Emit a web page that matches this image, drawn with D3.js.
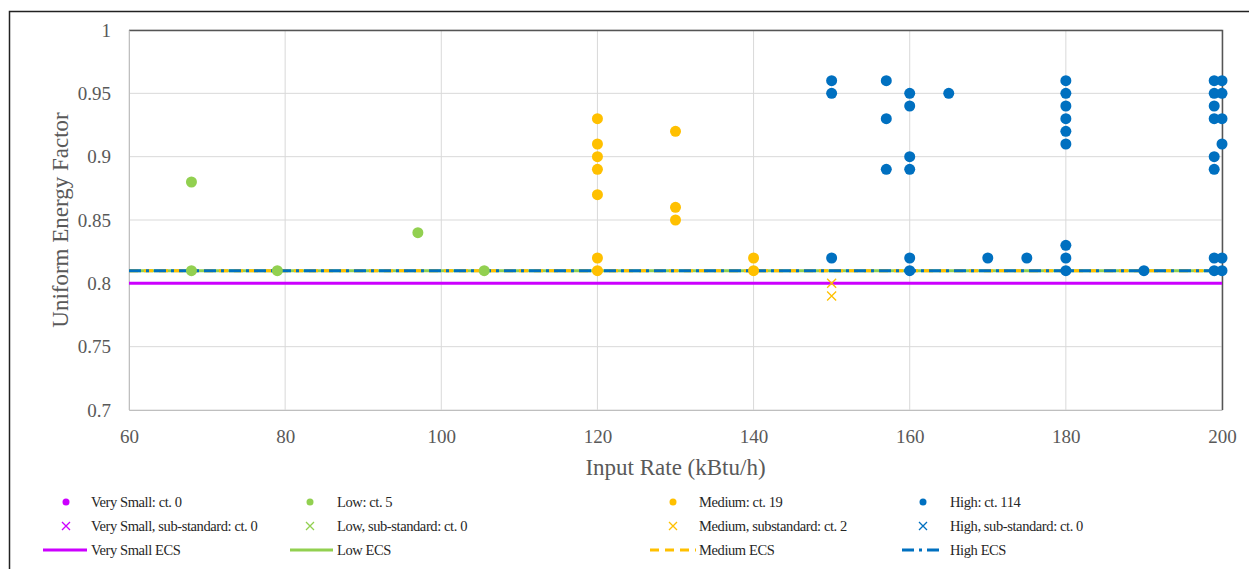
<!DOCTYPE html>
<html>
<head>
<meta charset="utf-8">
<script src="https://cdn.jsdelivr.net/npm/d3@7"></script>
<style>
  body { margin: 0; background: #fff; }
</style>
</head>
<body>
<script>
"use strict";

// ---- data ----
var low_points = [[68, 0.88], [68, 0.81], [79, 0.81], [97, 0.84], [105.5, 0.81]];
var medium_points = [
  [120, 0.93], [120, 0.91], [120, 0.90], [120, 0.89], [120, 0.87], [120, 0.82], [120, 0.81],
  [130, 0.92], [130, 0.86], [130, 0.85],
  [140, 0.82], [140, 0.81]
];
var medium_sub_points = [[150, 0.80], [150, 0.79]];
var high_points = [
  [150, 0.96], [150, 0.95], [150, 0.82],
  [157, 0.96], [157, 0.93], [157, 0.89],
  [160, 0.95], [160, 0.94], [160, 0.90], [160, 0.89], [160, 0.82], [160, 0.81],
  [165, 0.95], [170, 0.82], [175, 0.82],
  [180, 0.96], [180, 0.95], [180, 0.94], [180, 0.93], [180, 0.92], [180, 0.91],
  [180, 0.83], [180, 0.82], [180, 0.81],
  [190, 0.81],
  [199, 0.96], [199, 0.95], [199, 0.94], [199, 0.93], [199, 0.90], [199, 0.89], [199, 0.82], [199, 0.81],
  [200, 0.96], [200, 0.95], [200, 0.93], [200, 0.91], [200, 0.82], [200, 0.81]
];
var ecs_names = ['Very Small ECS', 'Low ECS', 'Medium ECS', 'High ECS'];
var ecs_values = [0.80, 0.81, 0.81, 0.81];
var x_ticks = [60, 80, 100, 120, 140, 160, 180, 200];
var y_ticks = [0.7, 0.75, 0.8, 0.85, 0.9, 0.95, 1];
var legend_dots = ['Very Small: ct. 0', 'Low: ct. 5', 'Medium: ct. 19', 'High: ct. 114'];
var legend_crosses = ['Very Small, sub-standard: ct. 0', 'Low, sub-standard: ct. 0',
                      'Medium, substandard: ct. 2', 'High, sub-standard: ct. 0'];

var colors = ['#cc00ff', '#92d050', '#ffc000', '#0070c0'];
var dashes = [null, null, '9,6', '12,5,3,5'];
var font = 'Liberation Serif, Times New Roman, DejaVu Serif, serif';

var width = 1249, height = 569;
var plot = {left: 129, right: 1222, top: 30, bottom: 410};

var svg = d3.select('body').append('svg')
  .attr('width', width)
  .attr('height', height)
  .style('font-family', font);

// outer frame
svg.append('path')
  .attr('d', 'M9.5,569 V11.5 H1249')
  .attr('fill', 'none')
  .attr('stroke', '#222')
  .attr('stroke-width', 1.5);

var x = d3.scaleLinear().domain([60, 200]).range([plot.left, plot.right]);
var y = d3.scaleLinear().domain([0.7, 1]).range([plot.bottom, plot.top]);

// gridlines
svg.append('g').selectAll('line.vg')
  .data(x_ticks)
  .enter().append('line')
  .attr('x1', function(d) { return x(d); })
  .attr('x2', function(d) { return x(d); })
  .attr('y1', plot.top)
  .attr('y2', plot.bottom)
  .attr('stroke', '#d9d9d9')
  .attr('stroke-width', 1);

svg.append('g').selectAll('line.hg')
  .data(y_ticks)
  .enter().append('line')
  .attr('x1', plot.left)
  .attr('x2', plot.right)
  .attr('y1', function(d) { return y(d); })
  .attr('y2', function(d) { return y(d); })
  .attr('stroke', '#d9d9d9')
  .attr('stroke-width', 1);

// plot area border: top and right are dark
svg.append('path')
  .attr('d', 'M' + plot.left + ',' + (plot.top + 0.5) + ' H' + (plot.right + 0.5) + ' V' + plot.bottom)
  .attr('fill', 'none')
  .attr('stroke', '#555')
  .attr('stroke-width', 1.5);

// axes (labels only, Excel style)
var xAxis = svg.append('g')
  .attr('transform', 'translate(0,' + plot.bottom + ')')
  .call(d3.axisBottom(x).tickValues(x_ticks).tickSize(0).tickPadding(19.5));
var yAxis = svg.append('g')
  .attr('transform', 'translate(' + plot.left + ',0)')
  .call(d3.axisLeft(y).tickValues(y_ticks).tickSize(0).tickPadding(18)
    .tickFormat(function(d) { return d3.format('')(+d.toFixed(2)); }));

[xAxis, yAxis].forEach(function(ax) {
  ax.attr('font-family', null);
  ax.select('.domain').attr('stroke', '#bfbfbf');
  ax.selectAll('text')
    .style('font-family', font)
    .style('font-size', '19px')
    .attr('fill', '#595959');
});

// axis titles
svg.append('text')
  .attr('x', (plot.left + plot.right) / 2)
  .attr('y', 475)
  .attr('text-anchor', 'middle')
  .style('font-family', font)
  .style('font-size', '23px')
  .attr('fill', '#595959')
  .text('Input Rate (kBtu/h)');

svg.append('text')
  .attr('transform', 'translate(68,' + ((plot.top + plot.bottom) / 2) + ') rotate(-90)')
  .attr('text-anchor', 'middle')
  .style('font-family', font)
  .style('font-size', '23px')
  .attr('fill', '#595959')
  .text('Uniform Energy Factor');

// ECS lines
ecs_values.forEach(function(v, i) {
  svg.append('line')
    .attr('x1', x(60))
    .attr('x2', x(200))
    .attr('y1', y(v))
    .attr('y2', y(v))
    .attr('stroke', colors[i])
    .attr('stroke-width', 3)
    .attr('stroke-dasharray', dashes[i]);
});

// points
function dots(data, color) {
  svg.append('g').selectAll('circle')
    .data(data)
    .enter().append('circle')
    .attr('cx', function(d) { return x(d[0]); })
    .attr('cy', function(d) { return y(d[1]); })
    .attr('r', 5.5)
    .attr('fill', color);
}
dots(low_points, colors[1]);
dots(medium_points, colors[2]);
dots(high_points, colors[3]);

function cross(g, cx, cy, s, color) {
  g.append('path')
    .attr('d', 'M' + (cx - s) + ',' + (cy - s) + 'L' + (cx + s) + ',' + (cy + s) +
               'M' + (cx - s) + ',' + (cy + s) + 'L' + (cx + s) + ',' + (cy - s))
    .attr('stroke', color)
    .attr('stroke-width', 1.3)
    .attr('fill', 'none');
}
var subs = svg.append('g');
medium_sub_points.forEach(function(d) {
  cross(subs, x(d[0]), y(d[1]), 4.5, colors[2]);
});

// legend
var col_marker = [66, 310, 673, 923];
var col_text = [91, 337, 699, 950];
var col_line = [[43, 87], [290, 333], [650, 696], [902, 940]];
var row_y = [502, 526, 550];
var legend = svg.append('g').attr('class', 'legend');

for (var i = 0; i < 4; i++) {
  legend.append('circle')
    .attr('cx', col_marker[i])
    .attr('cy', row_y[0])
    .attr('r', 3.5)
    .attr('fill', colors[i]);
  cross(legend, col_marker[i], row_y[1], 4, colors[i]);
  legend.append('line')
    .attr('x1', col_line[i][0])
    .attr('x2', col_line[i][1])
    .attr('y1', row_y[2])
    .attr('y2', row_y[2])
    .attr('stroke', colors[i])
    .attr('stroke-width', 3)
    .attr('stroke-dasharray', dashes[i]);

  [legend_dots[i], legend_crosses[i], ecs_names[i]].forEach(function(t, r) {
    legend.append('text')
      .attr('x', col_text[i])
      .attr('y', row_y[r] + 5)
      .style('font-family', font)
      .style('font-size', '14.5px')
      .style('letter-spacing', '-0.4px')
      .attr('fill', '#262626')
      .text(t);
  });
}
</script>
</body>
</html>
